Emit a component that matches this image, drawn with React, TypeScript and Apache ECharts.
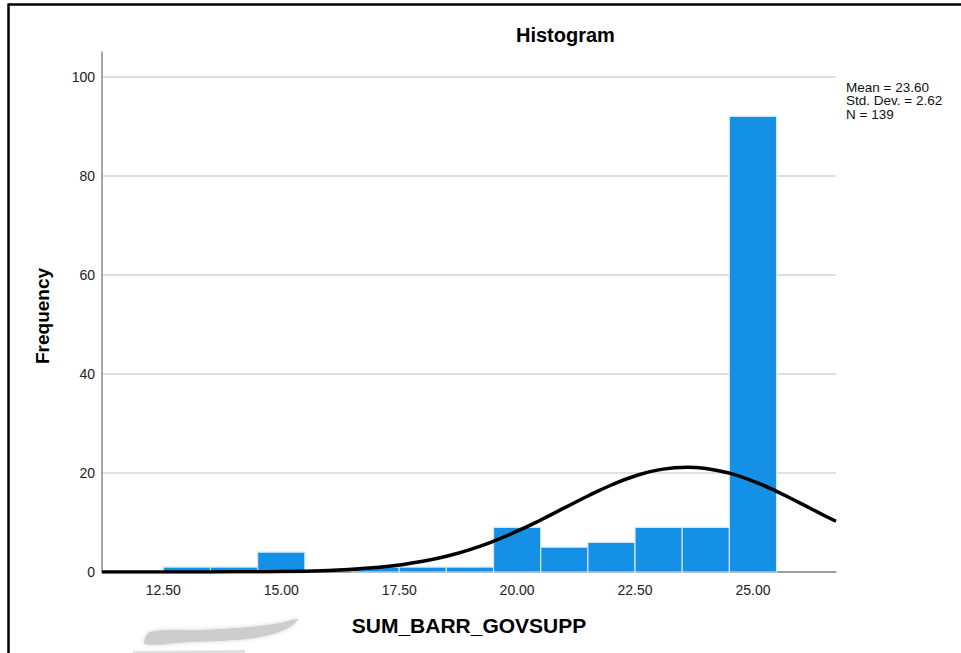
import React, { useEffect, useRef } from 'react';
import * as echarts from 'echarts';

// Histogram bins (bin width 1, centred on integers)
const binCenters = [13, 14, 15, 16, 17, 18, 19, 20, 21, 22, 23, 24, 25];
const frequencies = [1, 1, 4, 0, 1, 1, 1, 9, 5, 6, 9, 9, 92];

// Normal curve
const curveX = [11.2, 12, 13, 14, 15, 16, 16.5, 17, 17.5, 18, 18.5, 19, 19.5, 20, 20.5, 21, 21.5, 22, 22.5, 23, 23.6, 24, 24.5, 25, 25.5, 26, 26.5, 26.76];
const curveY = [0.0003, 0.001, 0.006, 0.026, 0.097, 0.315, 0.54, 0.887, 1.41, 2.16, 3.18, 4.53, 6.22, 8.24, 10.51, 12.94, 15.35, 17.57, 19.39, 20.62, 21.17, 20.92, 19.96, 18.35, 16.28, 13.91, 11.47, 10.25];

const statsLines = ['Mean = 23.60', 'Std. Dev. = 2.62', 'N = 139'];
const titleText = 'Histogram';
const xName = 'SUM_BARR_GOVSUPP';
const yName = 'Frequency';

const FONT = '"Liberation Sans", Arial, Helvetica, sans-serif';

export default function App() {
  const ref = useRef<HTMLDivElement>(null);
  useEffect(() => {
    if (!ref.current) return;
    const chart = echarts.init(ref.current, null, { renderer: 'svg' });
    const barData = binCenters.map((c, i) => [c, frequencies[i]]);
    const lineData = curveX.map((x, i) => [x, curveY[i]]);
    chart.setOption({
      animation: false,
      backgroundColor: '#ffffff',
      textStyle: { fontFamily: FONT },
      title: {
        text: titleText,
        left: 511,
        top: 20,
        textStyle: { fontFamily: FONT, fontSize: 20, fontWeight: 'bold', color: '#000' },
      },
      grid: { left: 102, right: 125, top: 52, bottom: 81 },
      xAxis: {
        type: 'value',
        min: 11.2,
        max: 26.76,
        minInterval: 2.5,
        maxInterval: 2.5,
        name: xName,
        nameLocation: 'middle',
        nameGap: 43,
        nameTextStyle: { fontFamily: FONT, fontSize: 21, fontWeight: 'bold', color: '#000' },
        axisLine: { show: true, lineStyle: { color: '#8a8a8a', width: 1.5 } },
        axisTick: { show: false },
        splitLine: { show: false },
        axisLabel: {
          showMinLabel: false,
          showMaxLabel: false,
          margin: 11,
          fontFamily: FONT,
          fontSize: 14,
          color: '#222',
          formatter: (v: number) => (Math.abs(v / 2.5 - Math.round(v / 2.5)) < 1e-6 ? v.toFixed(2) : ''),
        },
      },
      yAxis: {
        type: 'value',
        min: 0,
        max: 105,
        interval: 20,
        name: yName,
        nameLocation: 'middle',
        nameGap: 50,
        nameRotate: 90,
        nameTextStyle: { fontFamily: FONT, fontSize: 19, fontWeight: 'bold', color: '#000', padding: [0, 8, 0, 0] },
        axisLine: { show: true, lineStyle: { color: '#8a8a8a', width: 1.5 } },
        axisTick: { show: false },
        splitLine: { show: true, showMaxLine: false, lineStyle: { color: '#d4d4d4', width: 1.5 } },
        axisLabel: {
          margin: 7,
          fontFamily: FONT,
          fontSize: 14,
          color: '#222',
          formatter: (v: number) => (v > 100 ? '' : String(v)),
        },
      },
      series: [
        {
          type: 'custom',
          data: barData,
          encode: { x: 0, y: 1 },
          z: 2,
          renderItem: (params: any, api: any) => {
            const x = api.value(0);
            const y = api.value(1);
            if (!y) return null;
            const p0 = api.coord([x - 0.5, y]);
            const p1 = api.coord([x + 0.5, 0]);
            return {
              type: 'rect',
              shape: { x: p0[0], y: p0[1], width: p1[0] - p0[0], height: p1[1] - p0[1] },
              style: { fill: '#1490e6', stroke: '#cfe7fa', lineWidth: 1.2 },
            };
          },
        },
        {
          type: 'line',
          data: lineData,
          smooth: true,
          showSymbol: false,
          z: 3,
          lineStyle: { color: '#000', width: 3.5 },
        },
      ],
      graphic: [
        { type: 'line', shape: { x1: 8.5, y1: 4.5, x2: 961, y2: 4.5 }, style: { stroke: '#000', lineWidth: 2.5 } },
        { type: 'line', shape: { x1: 8.5, y1: 3.5, x2: 8.5, y2: 653 }, style: { stroke: '#000', lineWidth: 2.5 } },
        {
          type: 'text',
          left: 846,
          top: 80,
          style: {
            text: statsLines.join('\n'),
            font: `13.5px ${FONT}`,
            fill: '#111',
            lineHeight: 13.5,
          },
        },
        {
          type: 'polygon',
          shape: {
            points: [[150, 632], [200, 630], [250, 627], [280, 623], [298, 619], [288, 628], [265, 636], [235, 640], [190, 642], [145, 644]],
            smooth: 0.3,
          },
          style: { fill: '#cdcdcd', shadowBlur: 4, shadowColor: 'rgba(200,200,200,0.8)' },
        },
        {
          type: 'polygon',
          shape: { points: [[133, 651], [245, 650], [245, 653], [133, 653]] },
          style: { fill: '#e0e0e0' },
        },
      ],
    });
    return () => chart.dispose();
  }, []);
  return (
    <div
      ref={ref}
      style={{ position: 'fixed', left: 0, top: 0, width: 961, height: 653, background: '#fff' }}
    />
  );
}
